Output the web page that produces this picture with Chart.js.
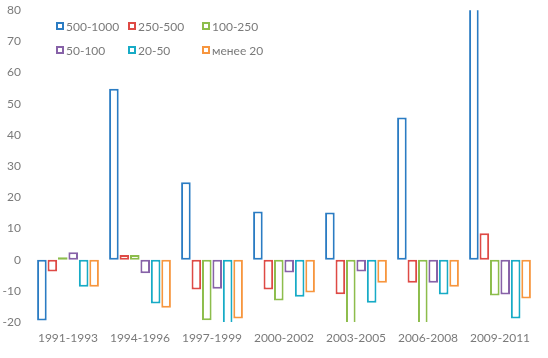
<!DOCTYPE html>
<html>
<head>
<meta charset="utf-8">
<script src="https://cdn.jsdelivr.net/npm/chart.js@4"></script>
<style>
  body { margin: 0; background: #fff; }
  #wrap { position: relative; width: 548px; height: 358px; }
  #legend { position: absolute; left: 0; top: 0; font-family: Lato, sans-serif; font-size: 12px; color: #7a7a7a; }
  .item { position: absolute; display: flex; align-items: center; white-space: nowrap; height: 14px; }
  .box { width: 8px; height: 8px; border: 2px solid; box-sizing: border-box; margin-right: 2px; background: #fff; }
</style>
</head>
<body>
<div id="wrap">
  <canvas id="chart" width="548" height="358"></canvas>
  <div id="legend"></div>
</div>
<script>
const categories = ["1991-1993", "1994-1996", "1997-1999", "2000-2002", "2003-2005", "2006-2008", "2009-2011"];
const labels = ["500-1000", "250-500", "100-250", "50-100", "20-50", "менее 20"];
const colors = ["#2b7cc3", "#de4a45", "#8dbd4c", "#8762a8", "#17abc6", "#f7963e"];

const s500_1000 = [-19.5, 54.8, 24.8, 15.4, 15.1, 45.6, 84];
const s250_500 = [-3.8, 1.5, -9.6, -9.6, -11.1, -7.4, 8.5];
const s100_250 = [0.8, 1.5, -19.4, -13.1, -22, -22, -11.5];
const s50_100 = [2.4, -4.4, -9.3, -4.1, -3.8, -7.4, -11.2];
const s20_50 = [-8.7, -14.1, -22, -11.9, -13.8, -11.2, -18.9];
const under20 = [-8.7, -15.4, -18.9, -10.5, -7.4, -8.7, -12.5];

const series = [s500_1000, s250_500, s100_250, s50_100, s20_50, under20];

const font = { family: "Lato, sans-serif", size: 12 };

new Chart(document.getElementById("chart"), {
  type: "bar",
  data: {
    labels: categories,
    datasets: series.map((d, i) => ({
      label: labels[i],
      data: d,
      backgroundColor: "#fff",
      borderColor: colors[i],
      borderWidth: 2,
      borderSkipped: false,
      categoryPercentage: 0.87,
      barPercentage: 0.92,
      clip: 0,
    })),
  },
  options: {
    responsive: false,
    animation: false,
    layout: { padding: { top: 3, right: 12, left: 0, bottom: 0 } },
    plugins: {
      legend: { display: false },
      tooltip: { enabled: false },
    },
    scales: {
      x: {
        grid: { display: false },
        border: { display: false },
        ticks: { color: "#7a7a7a", font, padding: 1, maxRotation: 0 },
        afterFit: (s) => { s.height = 36; },
      },
      y: {
        min: -20,
        max: 80,
        grid: { display: false },
        border: { display: false },
        ticks: { stepSize: 10, color: "#7a7a7a", font, padding: 3 },
        afterFit: (s) => { s.width = 32; },
      },
    },
  },
});

// legend drawn as html over the plot, 3 per row
const legend = document.getElementById("legend");
const colX = [56, 128, 202];
const rowY = [19, 43];
labels.forEach((name, i) => {
  const el = document.createElement("div");
  el.className = "item";
  el.style.left = colX[i % 3] + "px";
  el.style.top = rowY[Math.floor(i / 3)] + "px";
  el.innerHTML = '<span class="box" style="border-color:' + colors[i] + '"></span>' + name;
  legend.appendChild(el);
});
</script>
</body>
</html>
